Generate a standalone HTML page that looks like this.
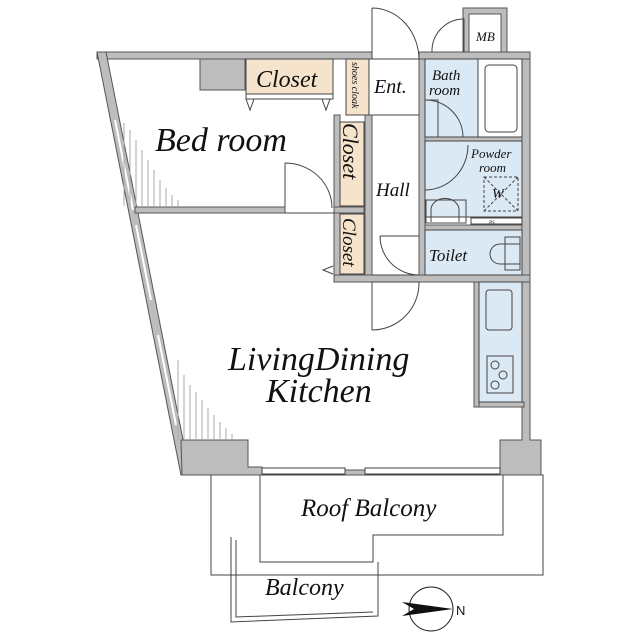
<!DOCTYPE html>
<html><head><meta charset="utf-8"><style>
html,body{margin:0;padding:0;background:#fff}
svg{display:block}
text{font-family:"Liberation Serif",serif;font-style:italic;fill:#111}
</style></head><body>
<svg width="640" height="640" viewBox="0 0 640 640" xmlns="http://www.w3.org/2000/svg">
<g stroke="#444" stroke-width="1" fill="none">
<rect x="211" y="475" width="332" height="100"/>
<path d="M260 475 V562 H373 V535 H503 V475"/>
<path d="M231 537 V622 L378 616 V562"/>
<path d="M236 540 V617 L373 612"/>
</g>
<g fill="#bdbdbd" stroke="#555" stroke-width="1">
<rect x="97" y="52" width="275" height="7"/>
<rect x="200" y="59" width="45" height="31"/>
<polygon points="97,52 106,52 190,475 181,475"/>
<polygon points="181,440 248,440 248,467 262,467 262,475 182,475"/>
<polygon points="500,467 500,440 522,440 522,52 530,52 530,440 541,440 541,475 500,475"/>
<rect x="345" y="470" width="20" height="5"/>
<rect x="135" y="207" width="150" height="6"/>
<rect x="334" y="115" width="6" height="167"/>
<rect x="334" y="207" width="30" height="6"/>
<rect x="334" y="275" width="196" height="7"/>
<rect x="365" y="115" width="7" height="160"/>
<rect x="419" y="52" width="6" height="223"/>
<rect x="419" y="52" width="111" height="7"/>
<rect x="425" y="225" width="97" height="5"/>
<rect x="425" y="137" width="97" height="4"/>
<rect x="478" y="402" width="46" height="5"/>
<rect x="474" y="282" width="5" height="125"/>
<rect x="463" y="8" width="44" height="44"/>
</g>
<rect x="469" y="14" width="32" height="38" fill="#fff" stroke="#555"/>
<g stroke="#fff" stroke-width="2">
<line x1="115" y1="120" x2="133" y2="210"/>
<line x1="136" y1="225" x2="151" y2="300"/>
<line x1="158" y1="335" x2="176" y2="425"/>
</g>
<rect x="262" y="468" width="83" height="6" fill="#fff" stroke="#444"/>
<rect x="365" y="468" width="135" height="6" fill="#fff" stroke="#444"/>
<g fill="#f5e3cc" stroke="#444">
<rect x="246" y="59" width="87" height="35"/>
<rect x="346" y="59" width="23" height="56"/>
<rect x="340" y="122" width="24" height="84"/>
<rect x="340" y="214" width="24" height="60"/>
</g>
<rect x="246" y="94" width="87" height="5" fill="#fff" stroke="#444"/>
<g fill="#dbe9f4" stroke="#444">
<rect x="425" y="59" width="53" height="78"/>
<rect x="425" y="141" width="97" height="76"/>
<rect x="425" y="230" width="97" height="45"/>
<rect x="479" y="282" width="43" height="120"/>
</g>
<rect x="478" y="59" width="44" height="78" fill="#fff" stroke="#444"/>
<rect x="485" y="65" width="32" height="67" rx="4" fill="#fff" stroke="#444"/>
<rect x="471" y="218" width="51" height="6" fill="#fff" stroke="#444"/>
<g stroke="#444" fill="none">
<rect x="484" y="177" width="34" height="34" stroke-dasharray="3,2"/>
<path d="M484 177 L518 211 M518 177 L484 211" stroke-dasharray="3,2"/>
<rect x="426" y="200" width="40" height="23"/>
<path d="M431 222 V210 a12 10 0 0 1 28 0 V222"/>
<rect x="486" y="290" width="26" height="40" rx="3"/>
<rect x="487" y="356" width="26" height="37"/>
<circle cx="495" cy="365" r="4"/><circle cx="503" cy="375" r="4"/><circle cx="495" cy="385" r="4"/>
<path d="M490 254 a10 10 0 0 1 10 -10 h20 v20 h-20 a10 10 0 0 1 -10 -10z"/>
<rect x="505" y="237" width="15" height="33"/>
<path d="M372 8 V59 M372 8 a47 52 0 0 1 47 52"/>
<path d="M372 330 V282 M372 330 a47 47 0 0 0 47 -48"/>
<path d="M380 236 H419 M380 236 a39 39 0 0 0 39 39"/>
<path d="M425 100 H438 V137 M425 100 a38 37 0 0 1 38 37"/>
<path d="M425 190 V145 M425 190 a43 45 0 0 0 43 -45"/>
<path d="M285 207 V163 M285 163 a47 45 0 0 1 47 45"/>
<line x1="285" y1="213" x2="334" y2="213"/>
<path d="M432 52 a32 32 0 0 1 32 -33 V52"/>
<line x1="372" y1="59" x2="419" y2="59"/><line x1="372" y1="115" x2="419" y2="115"/>
<line x1="372" y1="275" x2="419" y2="275"/><line x1="372" y1="282" x2="419" y2="282"/>
<path d="M246 99 L250 110 L254 99 M322 99 L326 110 L330 99"/>
<path d="M333 266 L323 270 L333 274"/>
</g>
<g stroke="#aaa" stroke-width="1">
<line x1="124" y1="123" x2="124" y2="206"/><line x1="130" y1="130" x2="130" y2="206"/><line x1="136" y1="140" x2="136" y2="206"/><line x1="142" y1="150" x2="142" y2="206"/><line x1="148" y1="160" x2="148" y2="206"/><line x1="154" y1="170" x2="154" y2="206"/><line x1="160" y1="180" x2="160" y2="206"/><line x1="166" y1="188" x2="166" y2="206"/><line x1="172" y1="195" x2="172" y2="206"/><line x1="178" y1="200" x2="178" y2="206"/>
<line x1="178" y1="360" x2="178" y2="440"/><line x1="184" y1="375" x2="184" y2="440"/><line x1="190" y1="385" x2="190" y2="440"/><line x1="196" y1="392" x2="196" y2="440"/><line x1="202" y1="400" x2="202" y2="440"/><line x1="208" y1="408" x2="208" y2="440"/><line x1="214" y1="415" x2="214" y2="440"/><line x1="220" y1="422" x2="220" y2="440"/><line x1="226" y1="428" x2="226" y2="440"/><line x1="232" y1="434" x2="232" y2="440"/>
</g>
<circle cx="431" cy="609" r="22" fill="#fff" stroke="#222"/>
<polygon points="402,602 453,609 402,616 414,609" fill="#111"/>
<text x="456" y="615" style="font-family:'Liberation Sans',sans-serif;font-style:normal;font-size:13px">N</text>
<text x="155" y="151" font-size="34">Bed room</text>
<text x="256" y="87" font-size="24">Closet</text>
<text x="374" y="93" font-size="20">Ent.</text>
<text x="376" y="196" font-size="19">Hall</text>
<text x="432" y="80" font-size="15">Bath</text>
<text x="429" y="95" font-size="15">room</text>
<text x="471" y="158" font-size="13">Powder</text>
<text x="479" y="172" font-size="13">room</text>
<text x="492" y="198" font-size="14">W</text>
<text x="429" y="261" font-size="17">Toilet</text>
<text x="228" y="370" font-size="34">LivingDining</text>
<text x="266" y="402" font-size="34">Kitchen</text>
<text x="301" y="516" font-size="25">Roof Balcony</text>
<text x="265" y="595" font-size="24">Balcony</text>
<text transform="translate(343,123) rotate(90)" font-size="22">Closet</text>
<text transform="translate(343,218) rotate(90)" font-size="19">Closet</text>
<text transform="translate(352,62) rotate(90)" font-size="10">shoes cloak</text>
<text x="489" y="224" font-size="5">PS</text>
<text x="476" y="41" font-size="13">MB</text>
</svg>
</body></html>
